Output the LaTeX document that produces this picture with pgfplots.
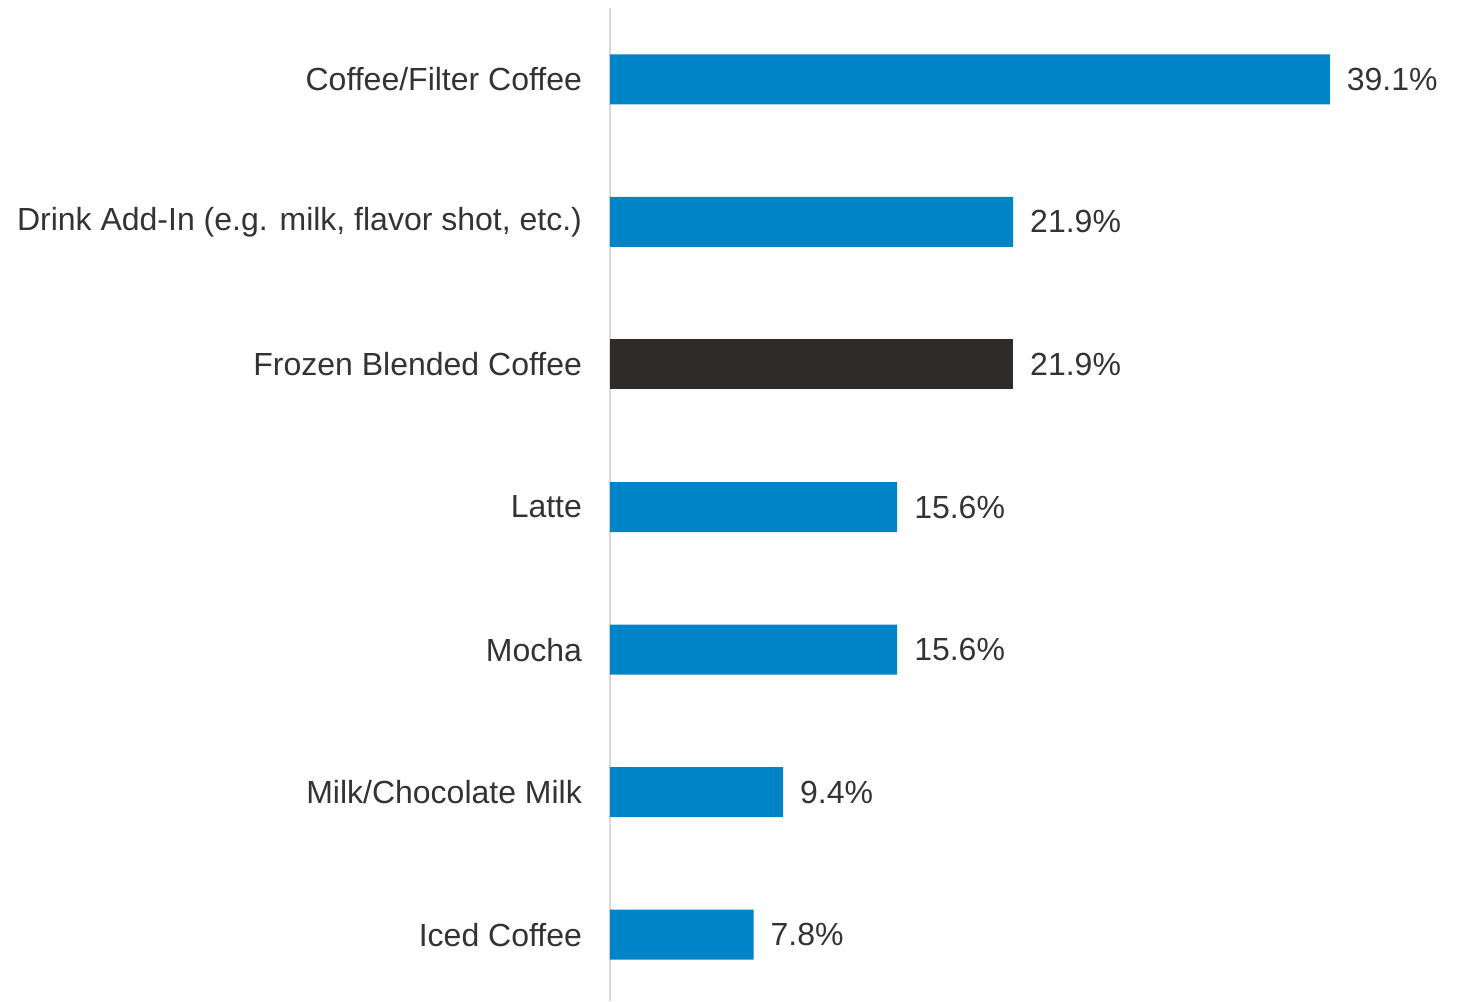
\documentclass[border=0pt]{standalone}
\usepackage{pgfplots}
\pgfplotsset{compat=1.18}
\usepackage{fontspec}
\setmainfont{Liberation Sans}
\definecolor{barblue}{RGB}{0,132,200}
\definecolor{bardark}{RGB}{45,44,43}
\definecolor{txt}{RGB}{51,51,51}
\definecolor{axgray}{RGB}{217,217,217}
\begin{document}
\begin{tikzpicture}
\begin{axis}[
  name=ax,
  scale only axis,
  width=425pt, height=496.5pt,
  xmin=0, xmax=46.17,
  ymin=-0.5, ymax=6.465,
  y dir=reverse,
  xbar, bar width=25pt, bar shift=0pt,
  axis x line=none,
  axis y line*=left,
  y axis line style={draw=axgray, line width=0.6pt, -},
  ytick={0,1,2,3,4,5,6},
  yticklabels={Coffee/Filter Coffee, {Drink Add-In (e.g. milk, flavor shot, etc.)}, Frozen Blended Coffee, Latte, Mocha, Milk/Chocolate Milk, Iced Coffee},
  major tick length=0pt,
  yticklabel style={font=\fontsize{16}{19}\selectfont, text=txt, xshift=-10.5pt},
  /pgf/number format/assume math mode=true,
  nodes near coords={\pgfmathprintnumber[fixed,fixed zerofill,precision=1,assume math mode=true]{\pgfplotspointmeta}\%},
  point meta=x,
  nodes near coords style={font=\fontsize{16}{19}\selectfont, text=txt, xshift=5pt},
  clip=false,
]
\addplot[fill=barblue, draw=none] coordinates {(39.1,0) (21.9,1) (15.6,3) (15.6,4) (9.4,5) (7.8,6)};
\addplot[fill=bardark, draw=none] coordinates {(21.9,2)};
\end{axis}
\pgfresetboundingbox
\path ([xshift=-305pt]ax.south west) rectangle ([yshift=4pt]ax.north east);
\end{tikzpicture}
\end{document}
